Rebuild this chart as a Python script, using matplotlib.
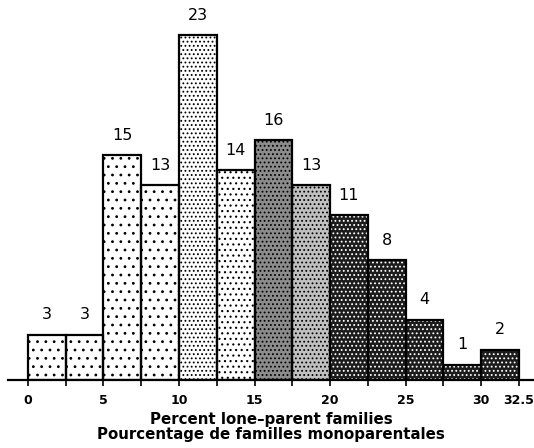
import matplotlib
matplotlib.use("Agg")
import matplotlib.pyplot as plt

# Data
bin_edges = [0, 2.5, 5, 7.5, 10, 12.5, 15, 17.5, 20, 22.5, 25, 27.5, 30, 32.5]
counts = [3, 3, 15, 13, 23, 14, 16, 13, 11, 8, 4, 1, 2]
tick_values = [0, 2.5, 5, 7.5, 10, 12.5, 15, 17.5, 20, 22.5, 25, 27.5, 30, 32.5]
tick_labels = ['0', '', '5', '', '10', '', '15', '', '20', '', '25', '', '30', '32.5']
xlabel = "Percent lone\u2013parent families\nPourcentage de familles monoparentales"

# Styles per bin: (facecolor, hatchcolor, hatch)
styles = [
    ('white', 'black', '..'),
    ('white', 'black', '..'),
    ('white', 'black', '..'),
    ('white', 'black', '..'),
    ('white', 'black', '....'),
    ('white', 'black', '...'),
    ('#8c8c8c', 'black', '....'),
    ('#c0c0c0', 'black', '....'),
    ('#1c1c1c', 'white', '....'),
    ('#1c1c1c', 'white', '....'),
    ('#1c1c1c', 'white', '....'),
    ('#1c1c1c', 'white', '....'),
    ('#1c1c1c', 'white', '....'),
]

plt.rcParams['hatch.linewidth'] = 0.8
plt.rcParams['font.family'] = ['DejaVu Sans']

fig = plt.figure(figsize=(5.34, 4.48), dpi=100)
ax = fig.add_axes([0.015, 0.1518, 0.985, 0.837])

lefts = bin_edges[:-1]
widths = [bin_edges[i + 1] - bin_edges[i] for i in range(len(lefts))]

for l, w, c, (fc, hc, h) in zip(lefts, widths, counts, styles):
    ax.bar(l, c, width=w, align='edge', color=fc, edgecolor=hc, hatch=h, linewidth=0)

ax.bar(lefts, counts, width=widths, align='edge', fill=False, edgecolor='black', linewidth=1.6)

for l, w, c in zip(lefts, widths, counts):
    ax.annotate(str(c), (l + w / 2, c), xytext=(0, 9), textcoords='offset points',
                ha='center', va='bottom', fontsize=11.5)

ax.set_xlim(-1.32, 33.5)
ax.set_ylim(0, 25)
for s in ['top', 'right', 'left']:
    ax.spines[s].set_visible(False)
ax.spines['bottom'].set_linewidth(1.6)
ax.set_yticks([])
ax.set_xticks(tick_values)
ax.set_xticklabels(tick_labels, fontsize=9, fontweight='bold')
ax.tick_params(axis='x', length=4, width=1.2, pad=6)
ax.set_xlabel(xlabel, fontsize=10.8, fontweight='bold', labelpad=4, linespacing=1.0)

fig.savefig('out.png', dpi=100)
